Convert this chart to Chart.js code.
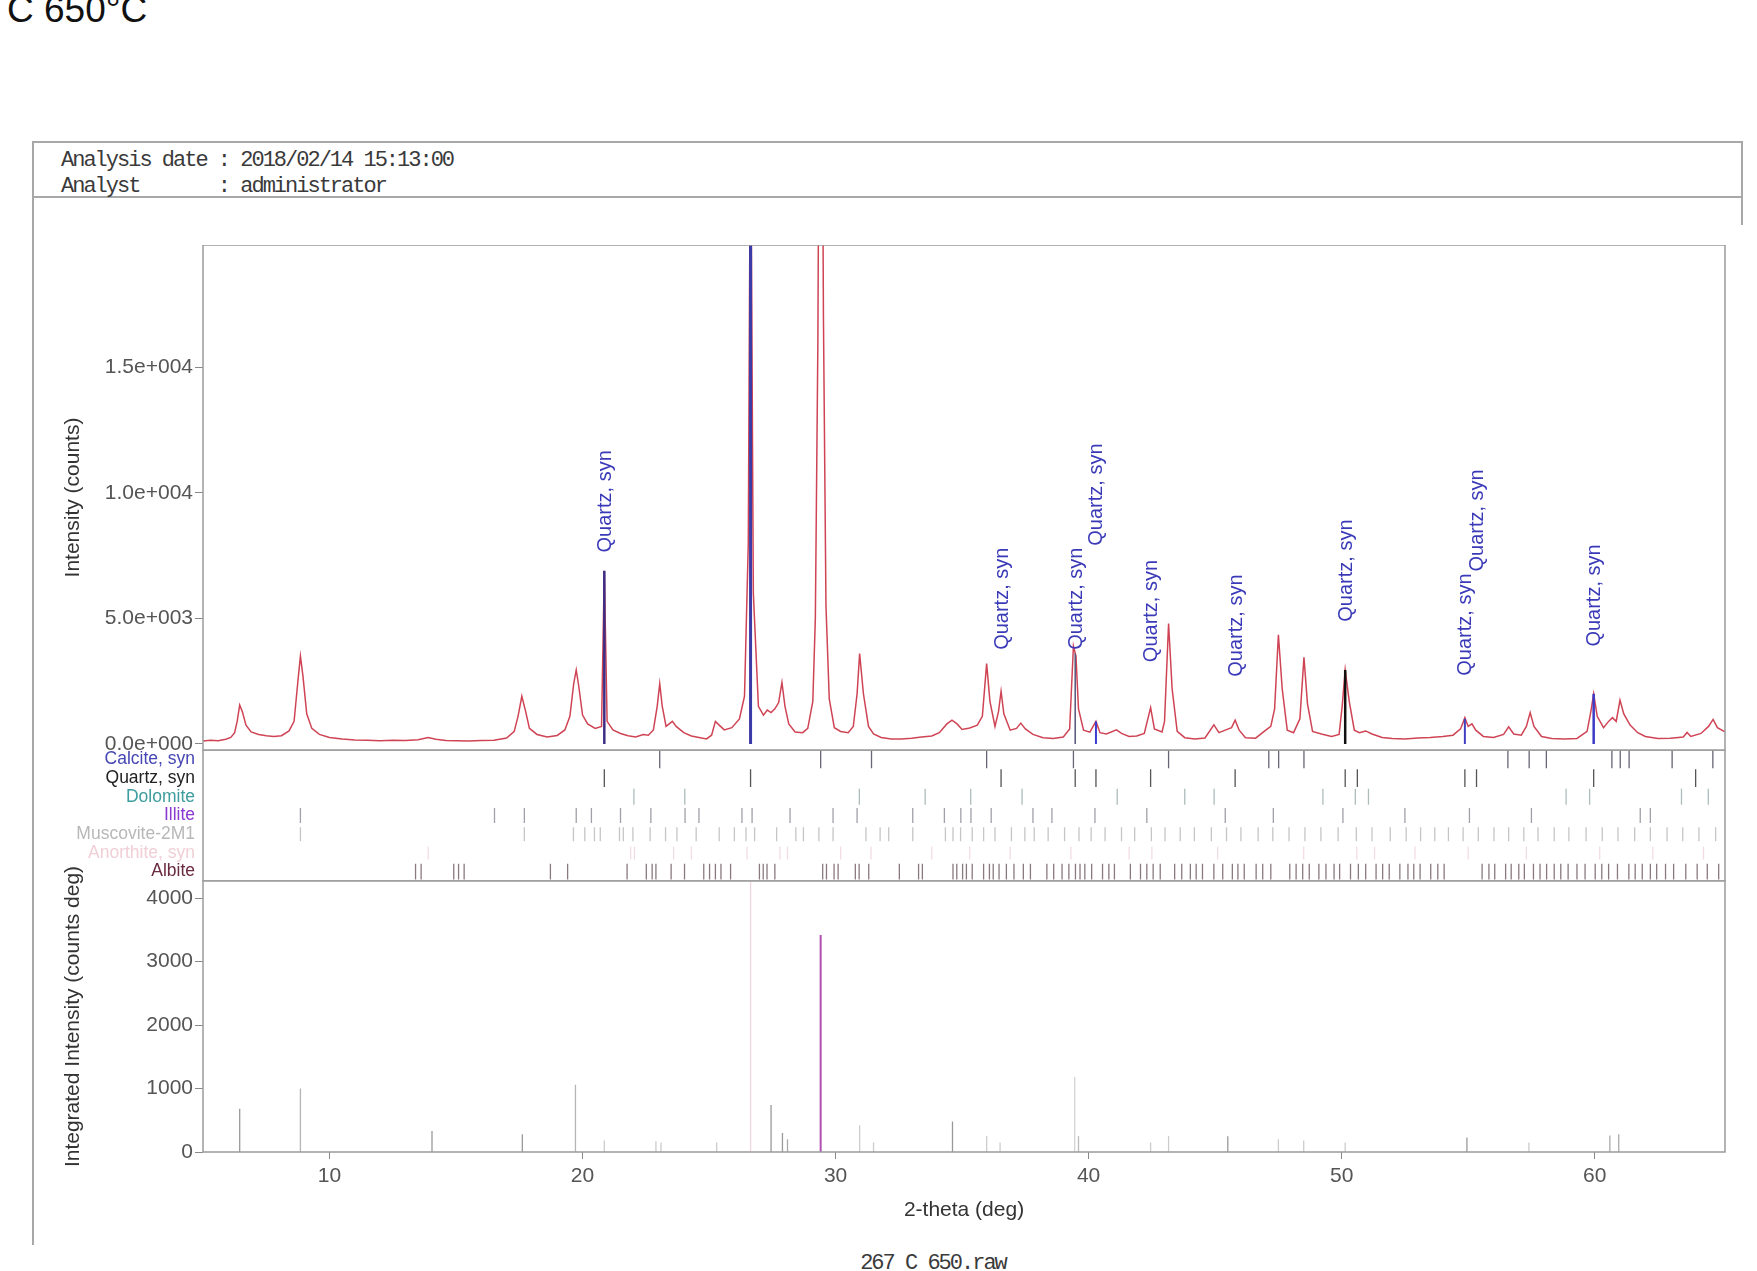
<!DOCTYPE html>
<html><head><meta charset="utf-8">
<script src="https://cdn.jsdelivr.net/npm/chart.js@4.4.1/dist/chart.umd.min.js"></script>
<style>
html,body{margin:0;padding:0;background:#fff;width:1757px;height:1271px;overflow:hidden;position:relative;font-family:'Liberation Sans',Arial,sans-serif;}
.abs{position:absolute;white-space:pre;}
canvas{position:absolute;left:0;}
#title{left:7px;top:-9px;font-size:37px;line-height:37px;color:#111;}
.mono{font-family:'Liberation Mono','Courier New',monospace;font-size:22px;line-height:22px;letter-spacing:-2px;color:#3a3a3a;}
.ln{position:absolute;background:#a8a8a8;}
</style></head>
<body>
<div id="title" class="abs">C 650°C</div>
<div class="ln" style="left:32px;top:141px;width:1711px;height:2px;"></div>
<div class="ln" style="left:32px;top:196px;width:1711px;height:2px;"></div>
<div class="ln" style="left:32px;top:141px;width:2px;height:1104px;"></div>
<div class="ln" style="left:1741px;top:141px;width:2px;height:84px;"></div>
<div class="abs mono" style="left:61px;top:150px;">Analysis date : 2018/02/14 15:13:00</div>
<div class="abs mono" style="left:61px;top:176px;">Analyst       : administrator</div>
<div class="abs mono" style="left:833px;top:1253px;width:200px;text-align:center;">267 C 650.raw</div>

<canvas id="cMain" width="1757" height="525" style="top:245px;width:1757px;height:525px;"></canvas>
<canvas id="cStick" width="1757" height="131" style="top:750px;width:1757px;height:131px;"></canvas>
<canvas id="cInt" width="1757" height="387" style="top:840px;width:1757px;height:387px;"></canvas>

<script>
// ---------- data ----------
const twoTheta = [5.00,5.30,5.60,5.90,6.10,6.25,6.35,6.45,6.55,6.70,6.90,7.20,7.50,7.80,8.10,8.40,8.60,8.75,8.85,8.95,9.10,9.30,9.60,10.00,10.50,11.00,11.50,12.00,12.50,13.00,13.50,13.90,14.20,14.60,15.00,15.50,16.00,16.50,17.00,17.30,17.45,17.60,17.75,17.90,18.20,18.60,19.00,19.30,19.50,19.65,19.75,19.85,20.00,20.20,20.50,20.75,20.86,20.97,21.20,21.50,21.80,22.10,22.40,22.60,22.80,22.95,23.05,23.15,23.30,23.55,23.70,24.00,24.30,24.60,24.90,25.10,25.25,25.40,25.60,25.90,26.20,26.40,26.55,26.64,26.75,26.95,27.15,27.30,27.45,27.60,27.75,27.88,28.00,28.15,28.40,28.70,28.90,29.10,29.20,29.30,29.41,29.52,29.62,29.75,29.95,30.20,30.50,30.70,30.85,30.95,31.10,31.30,31.50,31.80,32.20,32.60,33.00,33.40,33.80,34.10,34.40,34.60,34.80,35.00,35.30,35.60,35.80,35.97,36.10,36.30,36.44,36.54,36.65,36.90,37.15,37.32,37.50,37.80,38.20,38.60,39.00,39.25,39.40,39.50,39.60,39.80,40.05,40.29,40.45,40.70,41.10,41.30,41.60,41.90,42.20,42.45,42.60,42.90,43.00,43.16,43.30,43.50,43.80,44.20,44.60,44.95,45.15,45.40,45.65,45.79,45.95,46.20,46.60,47.00,47.20,47.35,47.50,47.65,47.85,48.10,48.35,48.51,48.65,48.85,49.20,49.60,49.90,50.02,50.14,50.30,50.50,50.70,50.95,51.20,51.60,52.00,52.50,53.00,53.50,54.00,54.40,54.70,54.87,55.00,55.15,55.30,55.60,56.00,56.40,56.60,56.80,57.10,57.30,57.45,57.60,57.90,58.30,58.80,59.30,59.70,59.85,59.96,60.10,60.35,60.55,60.70,60.85,61.00,61.15,61.40,61.70,62.00,62.50,63.00,63.50,63.65,63.80,64.20,64.50,64.68,64.85,65.15];
const counts = [120,150,130,190,260,450,900,1550,1300,750,480,380,330,300,330,520,900,2500,3500,2700,1200,620,380,260,200,160,150,130,150,140,170,260,190,140,130,120,140,150,240,500,1100,1900,1300,620,380,280,340,560,1100,2400,2950,2300,1150,800,620,700,6900,900,560,420,330,280,380,350,560,1500,2400,1500,700,900,700,450,320,260,200,350,900,750,560,650,1000,1900,8000,26000,6000,1500,1150,1350,1250,1400,1650,2450,1500,800,480,450,620,1700,5000,16000,40000,17000,5500,1800,650,500,450,700,2000,3600,2000,700,400,260,200,200,230,280,320,450,800,950,800,580,640,750,1100,3200,1700,700,1300,2100,1200,550,620,830,600,380,250,220,280,600,3900,3500,1400,550,470,900,450,400,560,420,300,320,420,1450,600,480,900,4800,2200,500,250,200,240,760,450,550,650,950,550,250,230,550,700,1400,4350,2200,550,450,1000,3450,1600,500,400,300,380,1500,2950,1700,550,450,520,400,260,220,200,240,260,300,350,600,1050,700,800,550,300,260,380,680,400,350,700,1250,700,300,220,200,220,500,1300,2000,1100,650,900,1050,900,1750,1200,750,450,300,220,230,280,460,300,420,700,980,650,480];

const mainYTicks = [0, 5000, 10000, 15000];
const intYTicks = [0, 1000, 2000, 3000, 4000];
const xTicks = [10, 20, 30, 40, 50, 60];

// Quartz peak markers in main panel
const quartzMarkPos = [20.86, 26.64, 39.47, 40.29, 50.14, 54.87, 59.96];
const quartzMarkTop = [6900, 26000, 3600, 900, 2950, 1000, 2000];
const quartzMarkColor = ['#3d2d85', '#3b3ba8', '#55557a', '#3b3bd0', '#111111', '#4040c0', '#3b3bc8'];
const quartzMarkWidth = [2.5, 3, 1.5, 2, 2.5, 2, 2.5];

// "Quartz, syn" peak labels (position, label start intensity)
const quartzLabelPos = [20.86, 36.54, 39.47, 40.29, 42.45, 45.79, 50.14, 54.87, 55.33, 59.96];
const quartzLabelBase = [7630, 3750, 3750, 7900, 3260, 2680, 4870, 2720, 6870, 3880];

// Reference-pattern stick rows
const phaseNames = ['Calcite, syn', 'Quartz, syn', 'Dolomite', 'Illite', 'Muscovite-2M1', 'Anorthite, syn', 'Albite'];
const calcitePos = [23.05, 29.41, 31.42, 35.97, 39.40, 43.16, 47.12, 47.51, 48.51, 56.57, 57.41, 58.09, 60.68, 61.01, 61.36, 63.06, 64.67];
const quartzPos = [20.86, 26.64, 36.54, 39.47, 40.29, 42.45, 45.79, 50.14, 50.62, 54.87, 55.33, 59.96, 63.99];
const dolomitePos = [22.03, 24.04, 30.94, 33.54, 35.34, 37.37, 41.13, 43.80, 44.96, 49.26, 50.54, 51.06, 58.87, 59.80, 63.43, 64.49];
const illitePos = [8.85, 16.52, 17.70, 19.75, 20.35, 21.50, 22.70, 24.05, 24.60, 26.30, 26.70, 28.20, 29.90, 30.85, 33.05, 34.30, 34.95, 35.35, 36.15, 37.80, 38.55, 40.25, 42.30, 45.40, 47.30, 50.05, 52.50, 55.05, 57.50, 61.80, 62.20];
const muscovitePos = [8.85, 17.70, 19.64, 20.09, 20.47, 20.70, 21.46, 21.61, 21.99, 22.67, 23.28, 23.73, 24.49, 25.40, 26.00, 26.46, 26.80, 27.67, 28.43, 28.73, 29.34, 29.90, 31.20, 31.76, 32.10, 33.05, 34.34, 34.64, 34.94, 35.40, 35.85, 36.30, 36.95, 37.48, 37.85, 38.40, 39.05, 39.62, 40.10, 40.65, 41.30, 41.82, 42.48, 43.02, 43.62, 44.18, 44.85, 45.45, 46.02, 46.70, 47.28, 47.92, 48.55, 49.18, 49.86, 50.58, 51.20, 51.92, 52.55, 53.12, 53.68, 54.22, 54.80, 55.40, 56.02, 56.60, 57.20, 57.76, 58.40, 58.98, 59.66, 60.30, 60.92, 61.58, 62.20, 62.86, 63.48, 64.12, 64.78];
const anorthitePos = [13.90, 21.90, 22.05, 23.60, 24.30, 26.50, 27.80, 28.10, 30.20, 31.40, 33.80, 35.30, 36.90, 39.30, 41.60, 42.50, 45.10, 48.50, 50.60, 51.30, 52.90, 55.00, 57.30, 60.20, 62.30, 64.30];
const albitePos = [13.40, 13.62, 14.91, 15.10, 15.32, 18.73, 19.41, 21.76, 22.52, 22.75, 22.90, 23.50, 24.03, 24.79, 25.02, 25.25, 25.47, 25.85, 26.99, 27.14, 27.29, 27.60, 29.49, 29.64, 29.94, 30.10, 30.78, 30.93, 31.31, 32.52, 33.28, 33.43, 34.64, 34.79, 35.02, 35.17, 35.40, 35.85, 36.08, 36.23, 36.46, 36.75, 37.05, 37.42, 37.70, 38.35, 38.62, 38.95, 39.22, 39.48, 39.66, 39.85, 40.12, 40.55, 40.80, 41.02, 41.65, 42.05, 42.30, 42.55, 42.83, 43.40, 43.68, 44.02, 44.25, 44.50, 44.95, 45.30, 45.68, 45.90, 46.15, 46.62, 46.88, 47.20, 47.95, 48.20, 48.46, 48.72, 49.10, 49.38, 49.70, 49.92, 50.35, 50.66, 50.95, 51.36, 51.62, 51.88, 52.30, 52.62, 52.85, 53.10, 53.52, 53.80, 54.05, 55.55, 55.82, 56.05, 56.48, 56.70, 57.00, 57.22, 57.58, 57.84, 58.10, 58.40, 58.66, 58.95, 59.30, 59.62, 60.02, 60.28, 60.55, 60.90, 61.35, 61.60, 61.88, 62.20, 62.45, 62.80, 63.12, 63.60, 64.05, 64.45, 64.90];

// Integrated intensity sticks (lower panel)
const intPos = [6.45, 8.85, 14.05, 17.62, 19.72, 20.86, 22.90, 23.10, 25.30, 26.64, 27.45, 27.90, 28.10, 29.41, 30.95, 31.50, 34.62, 35.97, 36.50, 39.45, 39.60, 42.45, 43.16, 45.50, 47.50, 48.50, 50.14, 54.95, 57.40, 60.60, 60.95];
const intVal = [680, 1000, 330, 280, 1060, 180, 170, 150, 150, 4500, 740, 300, 200, 3420, 420, 150, 480, 250, 150, 1180, 250, 150, 250, 250, 200, 180, 150, 230, 150, 260, 280];

// ---------- styles ----------
const phaseLabelColors = ['#4646b4', '#222222', '#3f9d9d', '#8a3ad0', '#b8b8b8', '#f0cfd6', '#6a2a40'];
const phaseStickColors = ['#666677', '#555555', '#aebcbc', '#a0a0a8', '#c6c6c6', '#f2dde2', '#8a7a80'];
const phaseStickLen = [0.95, 0.95, 0.85, 0.8, 0.75, 0.7, 0.85];
const intColor = ['#999','#b5b5b5','#999','#999','#b5b5b5','#ccc','#ccc','#ccc','#ccc','#f3d6dc','#999','#999','#aaa','#b050b0','#ccc','#ccc','#999','#ccc','#ccc','#d3d3d3','#bbb','#ccc','#ccc','#999','#ccc','#ccc','#ccc','#999','#ccc','#aaa','#aaa'];

Chart.defaults.font.family = "'Liberation Sans', Arial, sans-serif";
Chart.defaults.font.size = 21;

function segs(pos, y0, y1) {
  const out = [];
  pos.forEach((p, i) => {
    const a = Array.isArray(y0) ? y0[i] : y0;
    const b = Array.isArray(y1) ? y1[i] : y1;
    out.push({x: p, y: a}, {x: p, y: b}, {x: p, y: null});
  });
  return out;
}
function fmtExp(v) {
  const [m, e] = Number(v).toExponential(1).split('e');
  return m + 'e' + e[0] + e.slice(1).padStart(3, '0');
}
function noPad(s) { s.paddingTop = 0; s.paddingBottom = 0; s.paddingLeft = 0; s.paddingRight = 0; }
const frame = {
  id: 'frame',
  afterDraw(chart) {
    const {ctx, chartArea: a} = chart;
    ctx.save();
    ctx.strokeStyle = '#9a9a9a';
    ctx.lineWidth = 1.5;
    ctx.strokeRect(a.left, a.top, a.right - a.left, a.bottom - a.top);
    ctx.restore();
  }
};
const qLabels = {
  id: 'qLabels',
  afterDatasetsDraw(chart) {
    const {ctx, scales: {x, y}} = chart;
    ctx.save();
    ctx.fillStyle = '#3a3ab8';
    ctx.font = "20px 'Liberation Sans', Arial, sans-serif";
    ctx.textAlign = 'left';
    ctx.textBaseline = 'middle';
    quartzLabelPos.forEach((p, i) => {
      const px = x.getPixelForValue(p) + 1;
      const py = y.getPixelForValue(quartzLabelBase[i]);
      ctx.save();
      ctx.translate(px, py);
      ctx.rotate(-Math.PI / 2);
      ctx.fillText('Quartz, syn', 0, 0);
      ctx.restore();
    });
    ctx.restore();
  }
};
function xScale(show) {
  return {
    type: 'linear', min: 5, max: 65.15, display: show,
    afterBuildTicks: s => { s.ticks = xTicks.map(v => ({value: v})); },
    afterFit: s => { noPad(s); if (show) s.height = 75; },
    grid: {display: show, drawOnChartArea: false, drawTicks: true, tickLength: 7, color: '#888'},
    border: {display: false},
    ticks: {color: '#555', font: {size: 21}, padding: 5, maxRotation: 0, autoSkip: false},
    title: {display: show, text: '2-theta (deg)', color: '#333', font: {size: 21}, padding: {top: 0, bottom: 4}}
  };
}
const common = {
  responsive: false, animation: false, devicePixelRatio: 1,
  plugins: {legend: {display: false}, tooltip: {enabled: false}},
  elements: {point: {radius: 0}, line: {tension: 0}}
};

// ---------- main pattern ----------
const mainSets = quartzMarkPos.map((p, i) => ({
  data: segs([p], 0, quartzMarkTop[i]),
  borderColor: quartzMarkColor[i], borderWidth: quartzMarkWidth[i], order: 0
}));
mainSets.push({
  data: twoTheta.map((t, i) => ({x: t, y: counts[i]})),
  borderColor: '#cf4455', borderWidth: 1.5, order: 1
});
new Chart(document.getElementById('cMain'), {
  type: 'line',
  data: {datasets: mainSets},
  options: Object.assign({}, common, {
    layout: {padding: {left: 0, right: 32, top: 0, bottom: 20}},
    scales: {
      x: xScale(false),
      y: {
        type: 'linear', min: -240, max: 19880,
        afterBuildTicks: s => { s.ticks = mainYTicks.map(v => ({value: v})); },
        afterFit: s => { noPad(s); s.width = 203; },
        grid: {drawOnChartArea: false, tickLength: 8, color: '#888'},
        border: {display: false},
        ticks: {callback: v => fmtExp(v), color: '#555', font: {size: 21}, padding: 2, autoSkip: false},
        title: {display: true, text: 'Intensity (counts)', color: '#333', font: {size: 21}, padding: {top: 61, bottom: 0}}
      }
    }
  }),
  plugins: [frame, qLabels]
});

// ---------- reference sticks ----------
const phaseLists = [calcitePos, quartzPos, dolomitePos, illitePos, muscovitePos, anorthitePos, albitePos];
const stickSets = phaseLists.map((list, r) => {
  const mid = 6 - r + 0.5;
  return {
    data: segs(list, mid - phaseStickLen[r] / 2, mid + phaseStickLen[r] / 2),
    borderColor: phaseStickColors[r], borderWidth: 1.3
  };
});
new Chart(document.getElementById('cStick'), {
  type: 'line',
  data: {datasets: stickSets},
  options: Object.assign({}, common, {
    layout: {padding: {left: 0, right: 32, top: 0, bottom: 0}},
    scales: {
      x: xScale(false),
      y: {
        type: 'linear', min: 0, max: 7,
        afterBuildTicks: s => { s.ticks = [0.5, 1.5, 2.5, 3.5, 4.5, 5.5, 6.5].map(v => ({value: v})); },
        afterFit: s => { noPad(s); s.width = 203; },
        grid: {display: false, drawTicks: false},
        border: {display: false},
        ticks: {
          callback: v => phaseNames[Math.round(6.5 - v)],
          color: c => phaseLabelColors[Math.round(6.5 - c.tick.value)],
          font: {size: 17.5, lineHeight: 1}, padding: 8, autoSkip: false
        }
      }
    }
  }),
  plugins: [frame]
});

// ---------- integrated intensity ----------
const intSets = intPos.map((p, i) => ({
  data: segs([p], 0, intVal[i]),
  borderColor: intColor[i], borderWidth: i === 13 ? 2 : 1.3
}));
new Chart(document.getElementById('cInt'), {
  type: 'line',
  data: {datasets: intSets},
  options: Object.assign({}, common, {
    layout: {padding: {left: 0, right: 32, top: 41, bottom: 0}},
    scales: {
      x: xScale(true),
      y: {
        type: 'linear', min: 0, max: 4270,
        afterBuildTicks: s => { s.ticks = intYTicks.map(v => ({value: v})); },
        afterFit: s => { noPad(s); s.width = 203; },
        grid: {drawOnChartArea: false, tickLength: 8, color: '#888'},
        border: {display: false},
        ticks: {callback: v => String(v), color: '#555', font: {size: 21}, padding: 2, autoSkip: false},
        title: {display: true, text: 'Integrated Intensity (counts deg)', color: '#333', font: {size: 21}, padding: {top: 61, bottom: 0}}
      }
    }
  }),
  plugins: [frame]
});
</script>
</body></html>
